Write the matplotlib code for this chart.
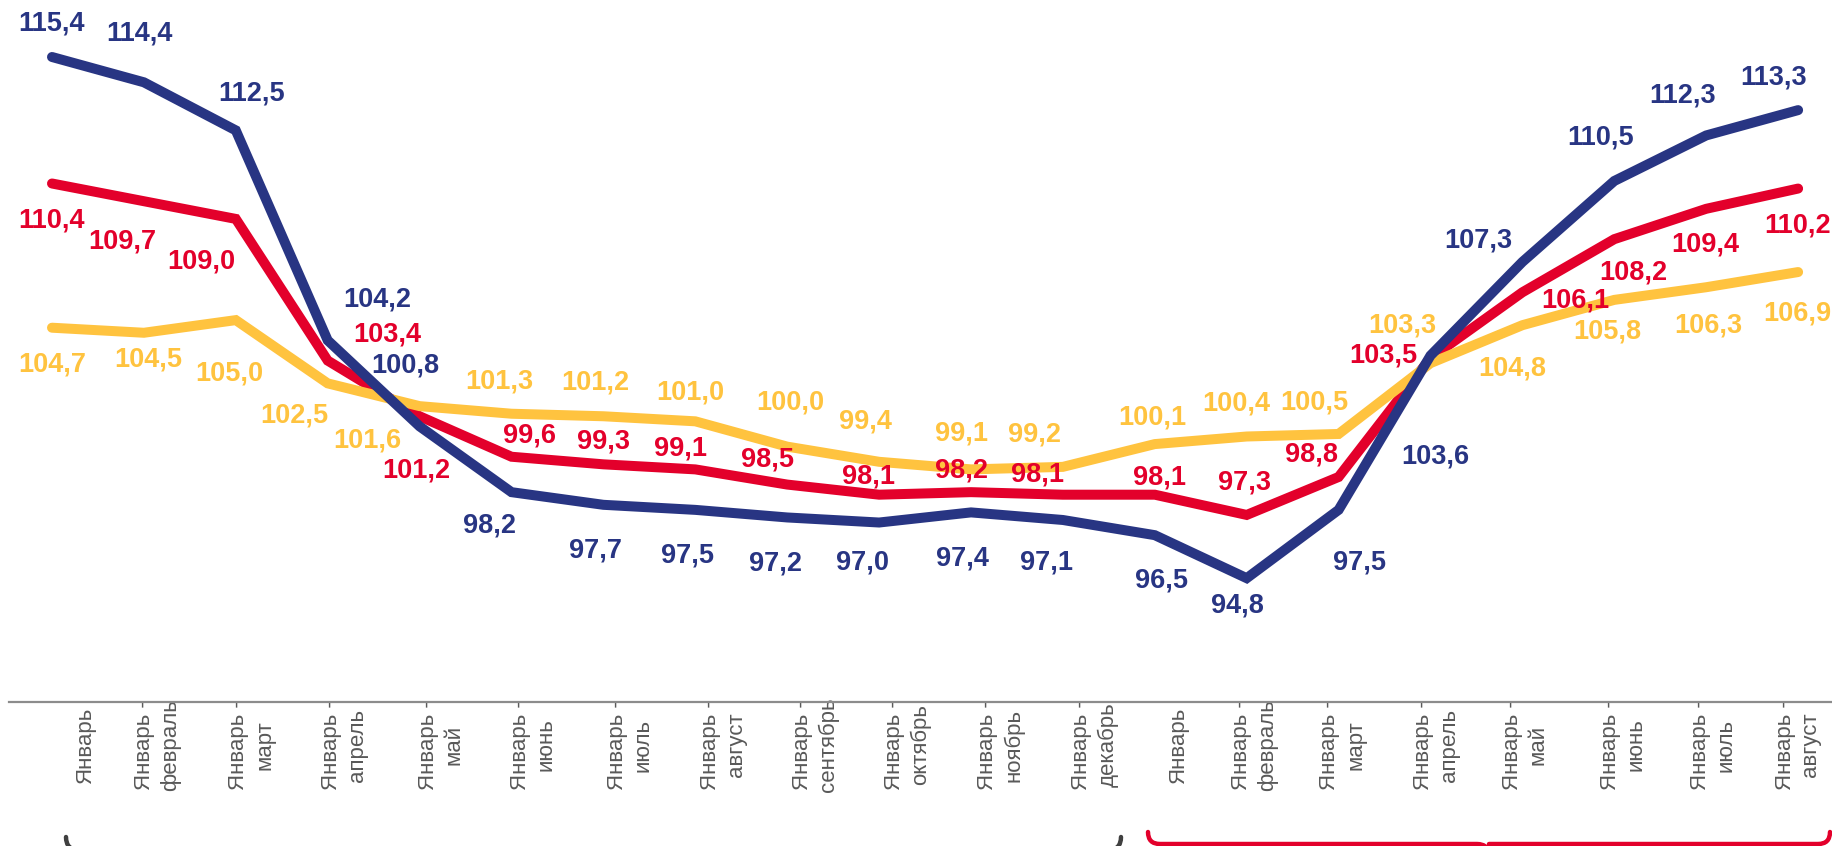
import matplotlib
matplotlib.use("Agg")
import matplotlib.pyplot as plt
from matplotlib.path import Path
from matplotlib.patches import PathPatch
from matplotlib.transforms import ScaledTranslation

plt.rcParams['font.family'] = ['Liberation Sans', 'DejaVu Sans']

# --- data ---
months = ["Январь", "Январь -\nфевраль", "Январь -\nмарт", "Январь -\nапрель",
          "Январь -\nмай", "Январь -\nиюнь", "Январь -\nиюль", "Январь -\nавгуст",
          "Январь -\nсентябрь", "Январь -\nоктябрь", "Январь -\nноябрь",
          "Январь -\nдекабрь",
          "Январь", "Январь -\nфевраль", "Январь -\nмарт", "Январь -\nапрель",
          "Январь -\nмай", "Январь -\nиюнь", "Январь -\nиюль", "Январь -\nавгуст"]

blue = [115.4, 114.4, 112.5, 104.2, 100.8, 98.2, 97.7, 97.5, 97.2, 97.0,
        97.4, 97.1, 96.5, 94.8, 97.5, 103.6, 107.3, 110.5, 112.3, 113.3]
red = [110.4, 109.7, 109.0, 103.4, 101.2, 99.6, 99.3, 99.1, 98.5, 98.1,
       98.2, 98.1, 98.1, 97.3, 98.8, 103.5, 106.1, 108.2, 109.4, 110.2]
yellow = [104.7, 104.5, 105.0, 102.5, 101.6, 101.3, 101.2, 101.0, 100.0, 99.4,
          99.1, 99.2, 100.1, 100.4, 100.5, 103.3, 104.8, 105.8, 106.3, 106.9]

# label offsets in pixels (dx, dy downwards)
blue_off = [(0, -33), (-4, -49), (16, -37), (50, -41), (-14, -61), (-22, 33),
            (-8, 46), (-8, 46), (-12, 46), (-17, 40), (-9, 46), (-16, 43),
            (7, 45), (-9, 27), (21, 53), (5, 101), (-44, -21), (-14, -43),
            (-24, -40), (-25, -33)]
red_off = [(0, 37), (-22, 40), (-34, 43), (60, -26), (-3, 54), (18, -21),
           (0, -23), (-15, -21), (-20, -25), (-11, -18), (-9, -22), (-25, -20),
           (5, -17), (-2, -32), (-27, -22), (-47, -3), (53, 8), (19, 33),
           (-1, 36), (-1, 37)]
yellow_off = [(0, 37), (4, 27), (-6, 53), (-33, 32), (-52, 34), (-12, -32),
              (-8, -34), (-5, -29), (3, -44), (-14, -40), (-9, -36), (-28, -32),
              (-2, -27), (-10, -33), (-24, -31), (-28, -38), (-10, 43), (-7, 32),
              (2, 38), (-1, 41)]
tick_dx = [33, 14, 16, 17, 22, 22, 27, 28, 28, 28, 30, 32, 24, 8, 4, 6, 3, 9, 7, 0]

C_BLUE = "#283583"
C_RED = "#e3002b"
C_YEL = "#ffc33f"
C_TICK = "#595959"

W, H = 1832, 846
fig = plt.figure(figsize=(W / 100, H / 100), dpi=100)
ax = fig.add_axes([0, 1 - 702 / H, 1, 702 / H])
ax.set_xlim(-52 / 91.9, (W - 52) / 91.9)
ax.set_ylim(115.4 - (702 - 57) / 25.3, 115.4 + 57 / 25.3)

x = list(range(len(months)))
series = [(red, C_RED, red_off, 2), (yellow, C_YEL, yellow_off, 3),
          (blue, C_BLUE, blue_off, 4)]
for vals, col, offs, z in series:
    ax.plot(x, vals, color=col, lw=7.2, solid_capstyle='round',
            solid_joinstyle='miter', zorder=z)
for vals, col, offs, z in series:
    for i, v in enumerate(vals):
        dx, dy = offs[i]
        ax.annotate(f"{v:.1f}".replace('.', ','), (i, v),
                    xytext=(dx, -dy), textcoords='offset pixels',
                    ha='center', va='center', fontsize=19.5,
                    fontweight='bold', color=col, zorder=6)

for s in ['top', 'left', 'right']:
    ax.spines[s].set_visible(False)
ax.spines['bottom'].set_color('#8c8c8c')
ax.spines['bottom'].set_linewidth(1.6)
ax.spines['bottom'].set_bounds(-43 / 91.9, (W - 52) / 91.9)
ax.set_yticks([])
ax.set_xticks(x)
ax.set_xticklabels(months, rotation=90, fontsize=16, color=C_TICK,
                   ha='center', va='center', multialignment='center',
                   linespacing=1.3)
ax.tick_params(axis='x', length=0, pad=31)
for lab, dx in zip(ax.get_xticklabels(), tick_dx):
    lab.set_transform(lab.get_transform() +
                      ScaledTranslation(dx / 100, 0, fig.dpi_scale_trans))

# braces under the year groups (only their top is visible)
ov = fig.add_axes([0, 0, 1, 1], facecolor='none')
ov.set_xlim(0, W)
ov.set_ylim(H, 0)
ov.axis('off')


def brace(x0, x1, ytop, r, color):
    xc = (x0 + x1) / 2
    yh = ytop + r
    verts = [(x0, ytop), (x0, yh), (x0 + r, yh), (xc - r, yh), (xc, yh),
             (xc, yh + r), (xc, yh), (xc + r, yh), (x1 - r, yh), (x1, yh),
             (x1, ytop)]
    codes = [Path.MOVETO, Path.CURVE3, Path.CURVE3, Path.LINETO, Path.CURVE3,
             Path.CURVE3, Path.MOVETO, Path.CURVE3, Path.LINETO, Path.CURVE3,
             Path.CURVE3]
    ov.add_patch(PathPatch(Path(verts, codes), fill=False, ec=color, lw=3.2,
                           capstyle='round'))


brace(66, 1121, 837, 13, "#404040")
brace(1148, 1830, 832, 12, C_RED)

fig.savefig("out.png", dpi=100)
